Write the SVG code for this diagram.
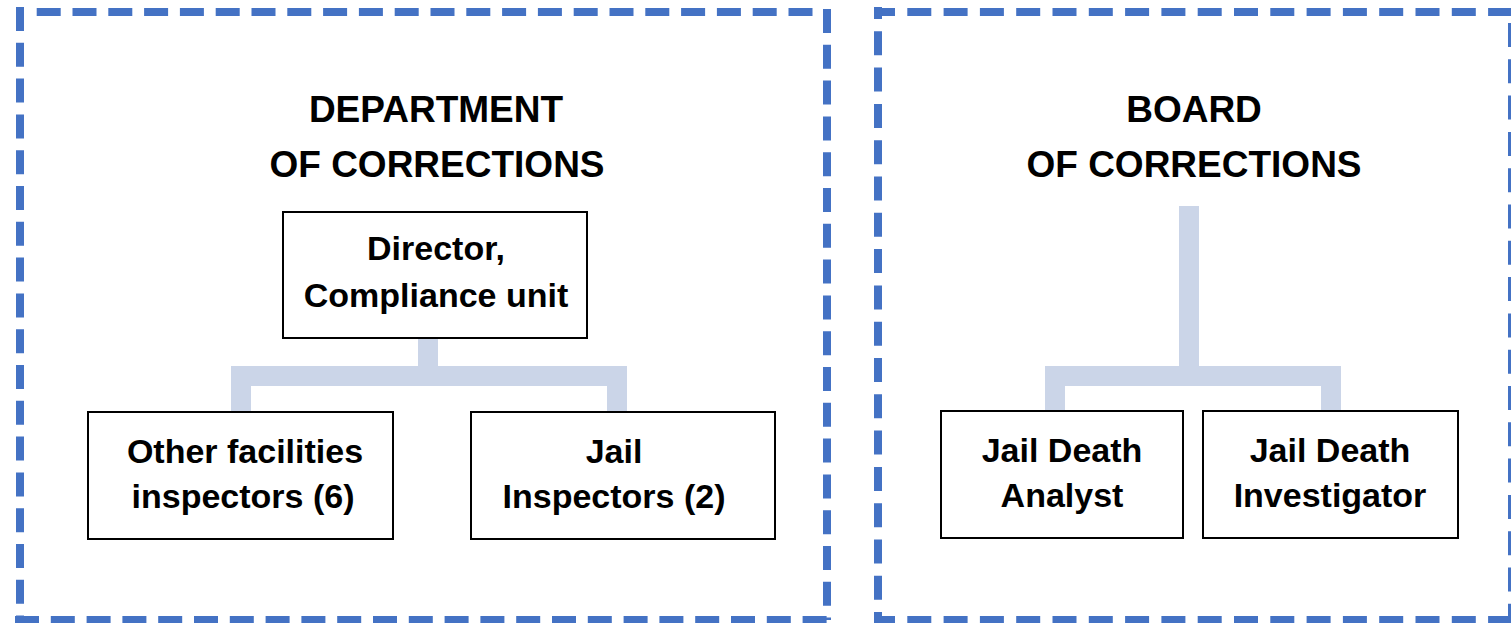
<svg xmlns="http://www.w3.org/2000/svg" width="1511" height="623" viewBox="0 0 1511 623">
<style>
.dl{stroke:#4472C4;stroke-width:8;fill:none;stroke-dasharray:24 11.8}
.dr{stroke:#4472C4;stroke-width:8;fill:none;stroke-dasharray:24 12.3}
.conn{stroke:#CBD5E8;stroke-width:20;fill:none;stroke-linejoin:miter}
.box{fill:#fff;stroke:#000;stroke-width:2}
.t{font-family:"Liberation Sans",Arial,sans-serif;font-weight:bold;fill:#000;text-anchor:middle}
.title{font-size:37px}
.lbl{font-size:34px}
</style>
<rect width="1511" height="623" fill="#fff"/>
<g id="dept-frame">
<line class="dl" x1="36.7" y1="12" x2="812.5" y2="12"/>
<line class="dl" x1="20" y1="7" x2="20" y2="620"/>
<line class="dl" x1="15" y1="620" x2="832" y2="620"/>
<line class="dl" x1="827" y1="9" x2="827" y2="620"/>
<text class="t title" x="436" y="122">DEPARTMENT</text>
<text class="t title" x="437" y="177">OF CORRECTIONS</text>
</g>
<g id="board-frame">
<line class="dr" x1="874" y1="12" x2="1516" y2="12" stroke-dashoffset="3"/>
<line class="dr" x1="878" y1="7" x2="878" y2="620" stroke-dashoffset="12"/>
<line class="dr" x1="874" y1="620" x2="1516" y2="620" stroke-dashoffset="3"/>
<line class="dr" x1="1512" y1="23" x2="1512" y2="620"/>
<text class="t title" x="1194" y="122">BOARD</text>
<text class="t title" x="1194" y="177">OF CORRECTIONS</text>
</g>
<g id="connectors">
<path class="conn" d="M241,412 V376 H617 V412 M428,338 V376"/>
<path class="conn" d="M1055,411 V376 H1331 V411 M1189,206 V376"/>
</g>
<g id="director">
<rect class="box" x="283" y="212" width="304" height="126"/>
<text class="t lbl" x="436" y="260">Director,</text>
<text class="t lbl" x="436" y="307">Compliance unit</text>
</g>
<g id="other-inspectors">
<rect class="box" x="88" y="412" width="305" height="127"/>
<text class="t lbl" x="245" y="463">Other facilities</text>
<text class="t lbl" x="243" y="508">inspectors (6)</text>
</g>
<g id="jail-inspectors">
<rect class="box" x="471" y="412" width="304" height="127"/>
<text class="t lbl" x="614" y="463">Jail</text>
<text class="t lbl" x="614" y="508">Inspectors (2)</text>
</g>
<g id="jail-death-analyst">
<rect class="box" x="941" y="411" width="242" height="127"/>
<text class="t lbl" x="1062" y="462">Jail Death</text>
<text class="t lbl" x="1062" y="507">Analyst</text>
</g>
<g id="jail-death-investigator">
<rect class="box" x="1203" y="411" width="255" height="127"/>
<text class="t lbl" x="1330" y="462">Jail Death</text>
<text class="t lbl" x="1330" y="507">Investigator</text>
</g>
</svg>
